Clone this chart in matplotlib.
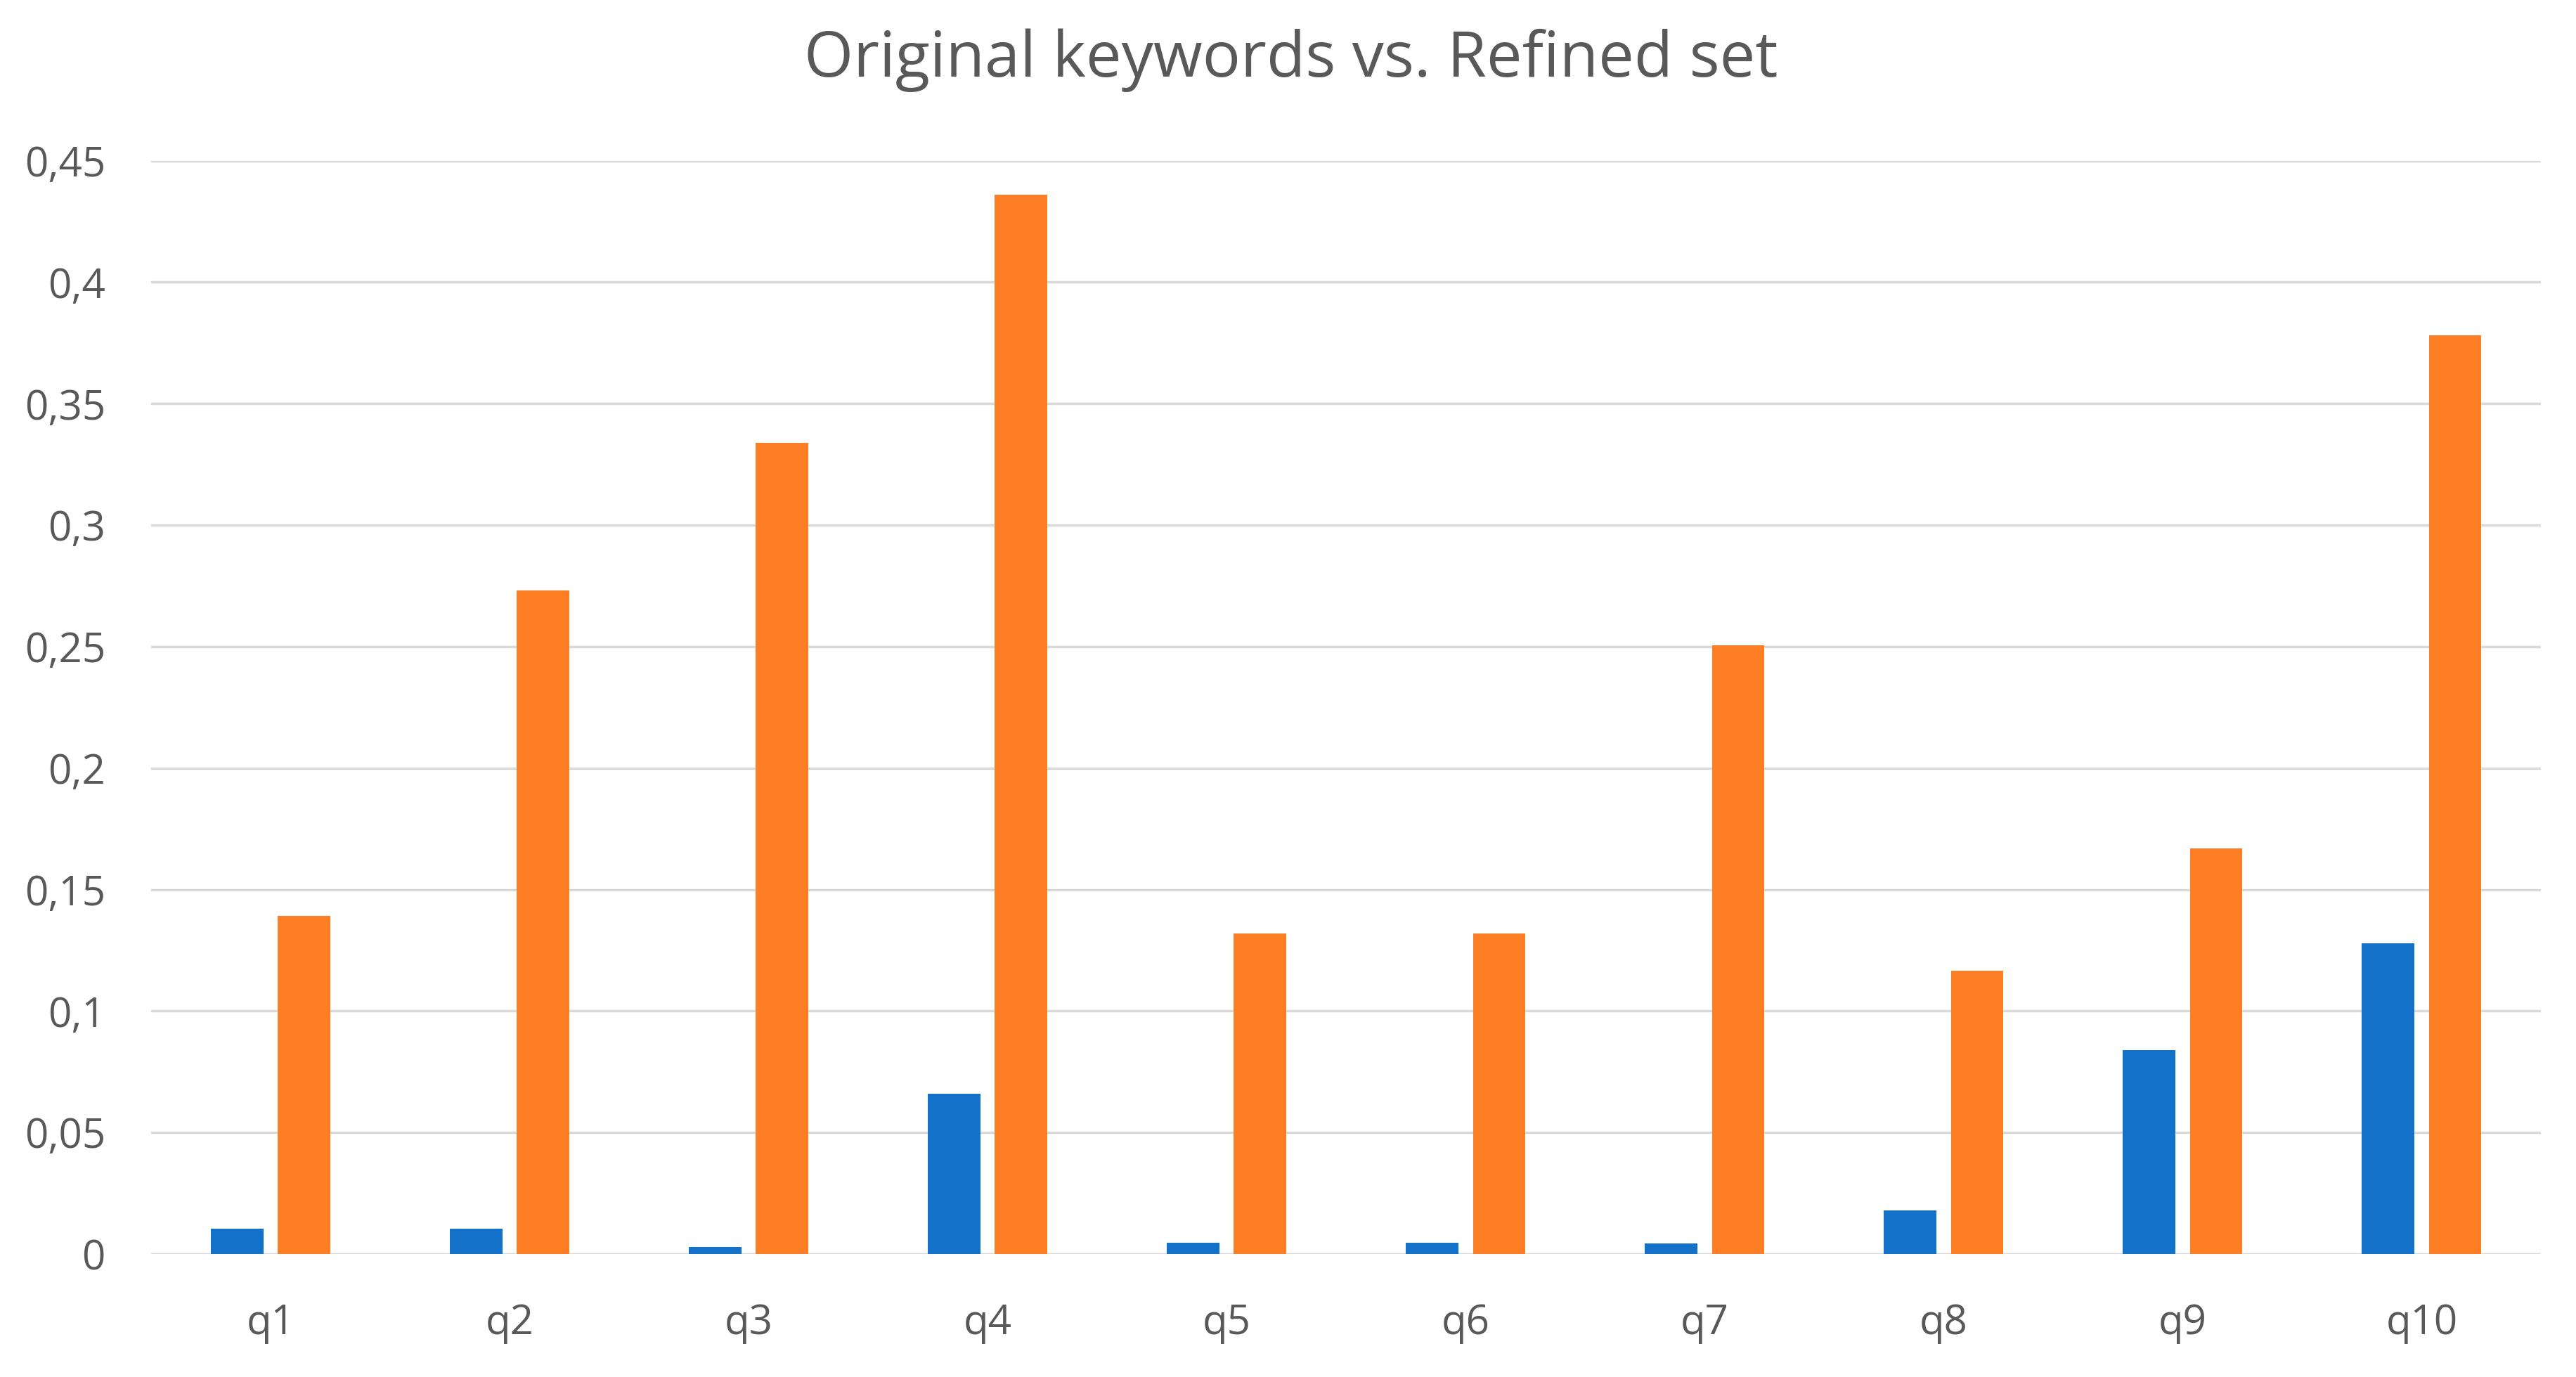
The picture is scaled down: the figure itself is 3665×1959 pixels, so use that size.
import numpy as np
import matplotlib
matplotlib.use("Agg")
import matplotlib.pyplot as plt
from matplotlib.ticker import FuncFormatter, MultipleLocator

# ── Data ───────────────────────────────────────────────────────────────────────
queries  = ["q1", "q2", "q3", "q4", "q5", "q6", "q7", "q8", "q9", "q10"]
original = [0.0105, 0.0105, 0.003, 0.066, 0.0047, 0.0047, 0.0045, 0.018, 0.084, 0.128]
refined  = [0.1393, 0.273, 0.334, 0.436, 0.132, 0.132, 0.2505, 0.1165, 0.167, 0.378]

blue   = "#1471C9"
orange = "#FD7E24"
grey   = "#595959"

plt.rcParams["font.family"] = ["Open Sans", "DejaVu Sans"]

fig = plt.figure(figsize=(36.66, 19.59), dpi=100, facecolor="white")
ax = fig.add_axes([0.0587, 0.0893, 0.9275, 0.794])

x = np.arange(len(queries))
w = 0.22
ax.bar(x - 0.14, original, width=w, color=blue, zorder=3)
ax.bar(x + 0.14, refined,  width=w, color=orange, zorder=3)

ax.set_xlim(-0.5, len(queries) - 0.5)
ax.set_ylim(0, 0.45)
ax.yaxis.set_major_locator(MultipleLocator(0.05))
ax.yaxis.set_major_formatter(FuncFormatter(lambda v, p: f"{round(v, 2):g}".replace(".", ",")))
ax.set_xticks(x)
ax.set_xticklabels(queries)

ax.grid(axis="y", color="#d9d9d9", linewidth=2.5, zorder=0)
for s in ax.spines.values():
    s.set_visible(False)
ax.tick_params(axis="both", length=0, labelsize=42, colors=grey)
ax.tick_params(axis="y", pad=47)
ax.tick_params(axis="x", pad=50)

fig.text(0.501, 0.956, "Original keywords vs. Refined set", color=grey,
         fontsize=65, ha="center", va="center")

plt.savefig("out.png", dpi=100, facecolor="white")
plt.close()
